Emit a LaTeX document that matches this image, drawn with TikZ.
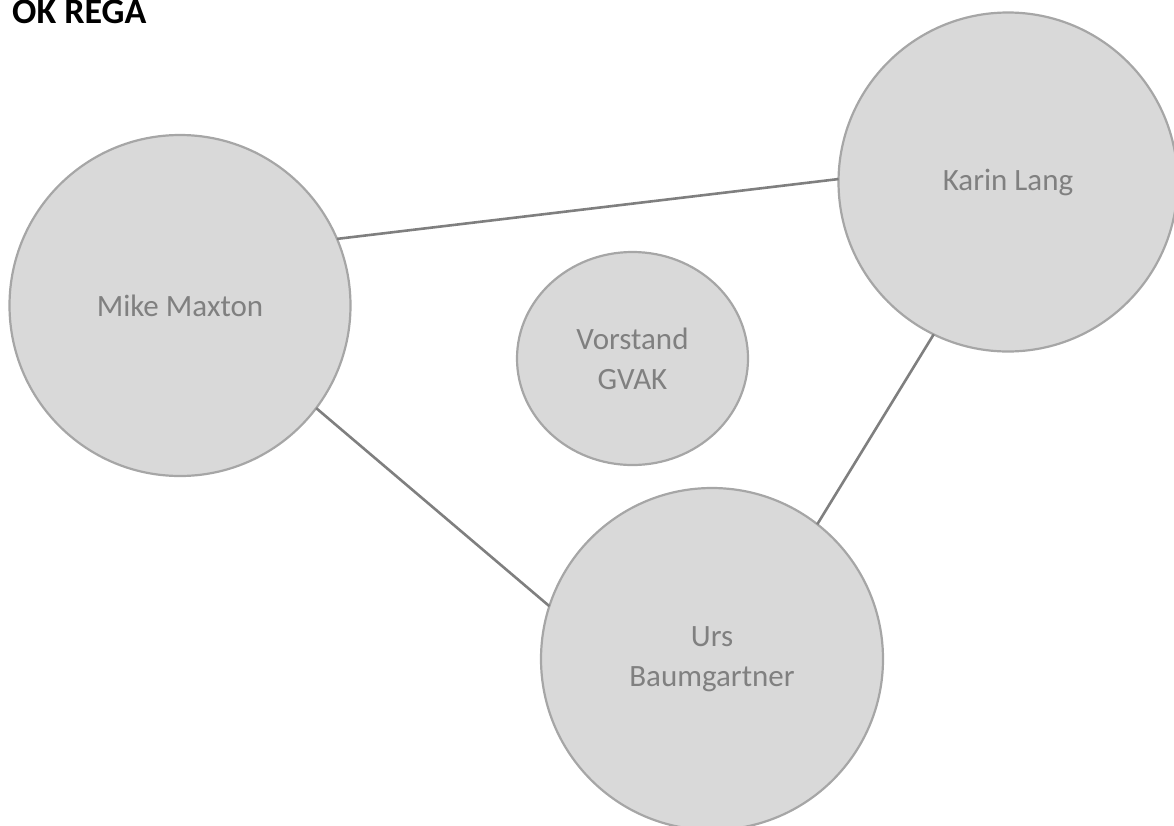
\documentclass[tikz,border=0pt]{standalone}
\usepackage{fontspec}
\setmainfont{Carlito}
\usetikzlibrary{shapes.geometric}
\definecolor{bubblefill}{HTML}{D9D9D9}
\definecolor{bubbleline}{HTML}{A6A6A6}
\definecolor{labelgray}{HTML}{808080}
\definecolor{linkgray}{HTML}{7F7F7F}
\tikzset{
  person/.style={circle, draw=bubbleline, fill=bubblefill, line width=2.2pt,
    inner sep=0pt, outer sep=0pt, text=labelgray, align=center,
    font=\fontsize{31}{40}\selectfont},
  board/.style={person, ellipse},
  link/.style={draw=linkgray, line width=2.6pt},
}
\begin{document}
\begin{tikzpicture}[x=1pt, y=-1pt]
  \useasboundingbox (0,0) rectangle (1174,825);
  % title
  \node[anchor=base west, inner sep=0pt, font=\fontsize{36}{40}\selectfont\bfseries]
    (title) at (12,23) {OK REGA};
  % people
  \node[person, minimum size=341pt] (mike) at (180,305.5) {Mike Maxton};
  \node[person, minimum size=339pt] (karin) at (1008,182) {Karin Lang};
  \node[person, minimum size=342pt] (urs) at (712,659) {Urs\\Baumgartner};
  \node[board, minimum width=231pt, minimum height=213pt] (vorstand) at (632.5,358.5) {Vorstand\\GVAK};
  % connections
  \draw[link] (mike.23.7) -- (karin.179.3);
  \draw[link] (mike.-37.7) -- (urs.162.7);
  \draw[link] (karin.-116.9) -- (urs.52.3);
\end{tikzpicture}
\end{document}
